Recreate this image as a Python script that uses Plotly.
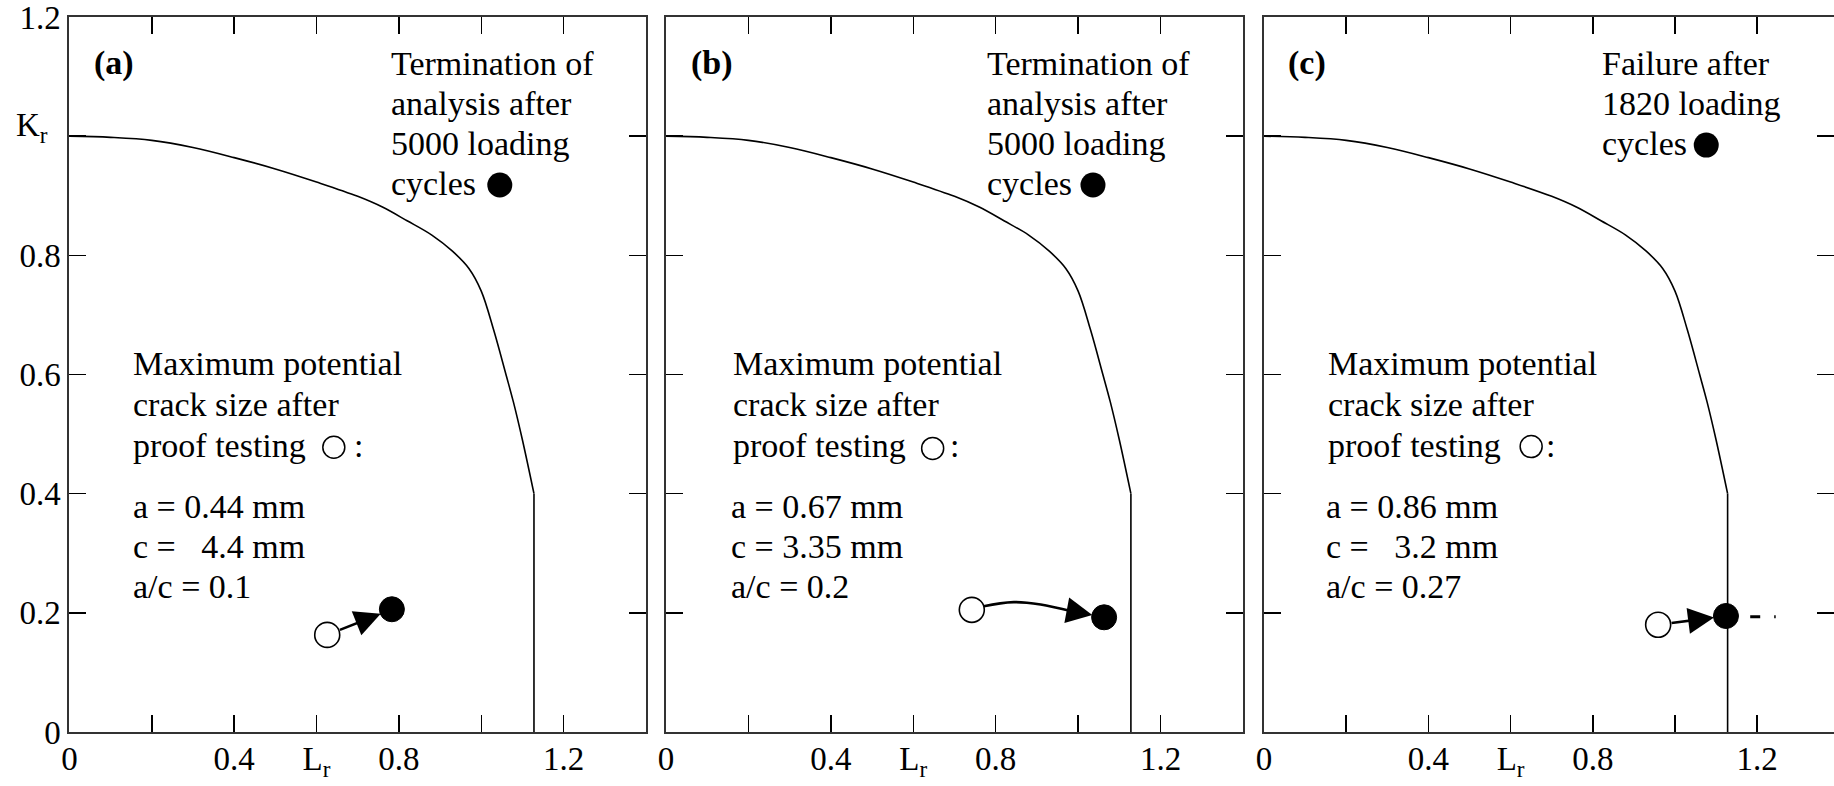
import plotly.graph_objects as go

# ---------------- data ----------------
# failure assessment curve, identical in all panels
curve_lr = [0.0, 0.10, 0.20, 0.30, 0.40, 0.50, 0.60, 0.70, 0.76, 0.82, 0.88,
            0.93, 0.97, 1.00, 1.03, 1.06, 1.078, 1.10, 1.128]
curve_kr = [1.0, 0.998, 0.993, 0.981, 0.964, 0.945, 0.923, 0.899, 0.881, 0.858, 0.834,
            0.807, 0.778, 0.740, 0.675, 0.600, 0.554, 0.490, 0.40]
cutoff_lr = [1.128, 1.128]
cutoff_kr = [0.40, 0.0]

panel_labels = ["(a)", "(b)", "(c)"]
top_texts = [["Termination of", "analysis after", "5000 loading", "cycles"],
             ["Termination of", "analysis after", "5000 loading", "cycles"],
             ["Failure after", "1820 loading", "cycles"]]
mid_texts = ["Maximum potential", "crack size after", "proof testing"]
param_texts = [["a = 0.44 mm", "c =\u00a0\u00a0\u00a04.4 mm", "a/c = 0.1"],
               ["a = 0.67 mm", "c = 3.35 mm", "a/c = 0.2"],
               ["a = 0.86 mm", "c =\u00a0\u00a0\u00a03.2 mm", "a/c = 0.27"]]

# assessment points: start (after proof test) and end
start_lr = [0.626, 0.742, 0.959]
start_kr = [0.163, 0.205, 0.180]
end_lr = [0.783, 1.063, 1.124]
end_kr = [0.206, 0.1925, 0.1947]

# curved path of panel (b)
path_b_lr = [0.742, 0.771, 0.844, 0.909, 0.982]
path_b_kr = [0.205, 0.211, 0.218, 0.214, 0.203]
# continuation of panel (c)
cont_c_lr = [1.183, 1.245]
cont_c_kr = [0.1935, 0.1935]

# text legend marker positions
cyc_dot_lr = [1.045, 1.036, 1.076]
cyc_dot_kr = [0.918, 0.918, 0.985]
proof_circ_lr = [0.642, 0.647, 0.650]
proof_circ_kr = [0.478, 0.476, 0.479]
colon_lr = [0.703, 0.701, 0.698]

x_ticks = [0, 0.2, 0.4, 0.6, 0.8, 1.0, 1.2, 1.4]
x_ticktext = ["0", "", "0.4", "L<sub>r</sub>", "0.8", "", "1.2", ""]
y_ticks = [0, 0.2, 0.4, 0.6, 0.8, 1.0, 1.2]
y_ticktext = ["0", "0.2", "0.4", "0.6", "0.8", "", "1.2"]
y_title = "K<sub>r</sub>"

# ---------------- layout geometry ----------------
W, H = 1834, 786
domains = [[69.4 / W, 646 / W], [666 / W, 1243 / W], [1264 / W, 1.0]]
x_ranges = [[0, 1.4], [0, 1.4], [0, (W - 1264) / 411.0]]
PX_PER_Y = 595.8
LINE = 40.0 / PX_PER_Y
FONT = "Liberation Serif"
TXT = 34
DX = -0.008  # small horizontal text correction

top_x = [0.785 + DX, 0.781 + DX, 0.825 + DX]
top_y0 = 1.122
label_x = [0.062 + DX, 0.063 + DX, 0.0625 + DX]
label_y = 1.122
mid_x = [0.157 + DX, 0.165 + DX, 0.158 + DX]
mid_y = [0.619, 0.550, 0.481]
par_x = [0.157 + DX, 0.162 + DX, 0.155 + DX]
par_y0 = 0.379

fig = go.Figure()
annotations = []

for i in range(3):
    xr = "x" if i == 0 else f"x{i+1}"
    yr = "y" if i == 0 else f"y{i+1}"
    # curve
    fig.add_trace(go.Scatter(x=curve_lr, y=curve_kr, mode="lines", xaxis=xr, yaxis=yr,
                             line=dict(color="black", width=1.6, shape="spline", smoothing=1.0),
                             showlegend=False, hoverinfo="skip"))
    fig.add_trace(go.Scatter(x=cutoff_lr, y=cutoff_kr, mode="lines", xaxis=xr, yaxis=yr,
                             line=dict(color="black", width=1.6), showlegend=False,
                             hoverinfo="skip"))
    if i == 1:
        fig.add_trace(go.Scatter(x=path_b_lr, y=path_b_kr, mode="lines", xaxis=xr, yaxis=yr,
                                 line=dict(color="black", width=2.6, shape="spline"),
                                 showlegend=False, hoverinfo="skip"))
    if i == 2:
        fig.add_trace(go.Scatter(x=cont_c_lr, y=cont_c_kr, mode="lines", xaxis=xr, yaxis=yr,
                                 line=dict(color="black", width=3, dash="10px,14px,3px,40px"),
                                 showlegend=False, hoverinfo="skip"))
    # start / end points
    fig.add_trace(go.Scatter(x=[start_lr[i]], y=[start_kr[i]], mode="markers", xaxis=xr, yaxis=yr,
                             marker=dict(size=25, color="white", line=dict(color="black", width=1.6)),
                             showlegend=False, hoverinfo="skip"))
    fig.add_trace(go.Scatter(x=[end_lr[i]], y=[end_kr[i]], mode="markers", xaxis=xr, yaxis=yr,
                             marker=dict(size=25, color="black", line=dict(color="black", width=1)),
                             showlegend=False, hoverinfo="skip"))
    # text legend markers
    fig.add_trace(go.Scatter(x=[cyc_dot_lr[i]], y=[cyc_dot_kr[i]], mode="markers", xaxis=xr, yaxis=yr,
                             marker=dict(size=25, color="black"), showlegend=False, hoverinfo="skip"))
    fig.add_trace(go.Scatter(x=[proof_circ_lr[i]], y=[proof_circ_kr[i]], mode="markers", xaxis=xr, yaxis=yr,
                             marker=dict(size=22, color="white", line=dict(color="black", width=1.5)),
                             showlegend=False, hoverinfo="skip"))

    # arrows
    if i == 1:
        ax0, ay0, sstand = path_b_lr[-1], path_b_kr[-1], 0
    else:
        ax0, ay0, sstand = start_lr[i], start_kr[i], 12
    annotations.append(dict(x=end_lr[i], y=end_kr[i], ax=ax0, ay=ay0, xref=xr, yref=yr,
                            axref=xr, ayref=yr, showarrow=True, arrowhead=2, arrowsize=2.0,
                            arrowwidth=2.6, arrowcolor="black", standoff=12,
                            startstandoff=sstand, text=""))

    # texts
    annotations.append(dict(x=label_x[i], y=label_y, xref=xr, yref=yr, text=f"<b>{panel_labels[i]}</b>",
                            showarrow=False, xanchor="left", yanchor="middle",
                            font=dict(family=FONT, size=TXT, color="black")))
    for k, t in enumerate(top_texts[i]):
        annotations.append(dict(x=top_x[i], y=top_y0 - k * LINE, xref=xr, yref=yr, text=t,
                                showarrow=False, xanchor="left", yanchor="middle",
                                font=dict(family=FONT, size=TXT, color="black")))
    for k, t in enumerate(mid_texts):
        annotations.append(dict(x=mid_x[i], y=mid_y[k], xref=xr, yref=yr, text=t,
                                showarrow=False, xanchor="left", yanchor="middle",
                                font=dict(family=FONT, size=TXT, color="black")))
    annotations.append(dict(x=colon_lr[i], y=mid_y[2], xref=xr, yref=yr, text=":",
                            showarrow=False, xanchor="center", yanchor="middle",
                            font=dict(family=FONT, size=TXT, color="black")))
    for k, t in enumerate(param_texts[i]):
        annotations.append(dict(x=par_x[i], y=par_y0 - k * LINE, xref=xr, yref=yr, text=t,
                                showarrow=False, xanchor="left", yanchor="middle",
                                font=dict(family=FONT, size=TXT, color="black")))

# K_r axis label at the 1.0 position of panel (a)
annotations.append(dict(x=14 / W, y=1.015, xref="paper", yref="y", text=y_title,
                        showarrow=False, xanchor="left", yanchor="middle",
                        font=dict(family=FONT, size=33, color="black")))

axis_common = dict(showgrid=False, zeroline=False, showline=True, linewidth=2, linecolor="#333",
                   ticks="inside", ticklen=17, tickwidth=1.5, tickcolor="black", mirror="ticks",
                   automargin=False, fixedrange=True, ticklabeloverflow="allow")

layout = dict(width=W, height=H, margin=dict(l=0, r=0, t=17, b=54),
              paper_bgcolor="white", plot_bgcolor="white", showlegend=False,
              annotations=annotations, font=dict(family=FONT, color="black"))

for i in range(3):
    xk = "xaxis" if i == 0 else f"xaxis{i+1}"
    yk = "yaxis" if i == 0 else f"yaxis{i+1}"
    ya = "y" if i == 0 else f"y{i+1}"
    xa = "x" if i == 0 else f"x{i+1}"
    layout[xk] = dict(axis_common, domain=domains[i], range=x_ranges[i], anchor=ya,
                      tickvals=x_ticks, ticktext=x_ticktext, ticklabelstandoff=-4,
                      tickfont=dict(family=FONT, size=33, color="black"))
    layout[yk] = dict(axis_common, domain=[0, 1], range=[0, 1.2], anchor=xa,
                      tickvals=y_ticks, ticktext=y_ticktext, showticklabels=(i == 0),
                      ticklabelstandoff=0,
                      tickfont=dict(family=FONT, size=33, color="black"))

fig.update_layout(**layout)
fig.write_html("out.html", config={"displayModeBar": False, "staticPlot": True},
               post_script="document.body.style.margin='0px';document.body.style.overflow='hidden';")
